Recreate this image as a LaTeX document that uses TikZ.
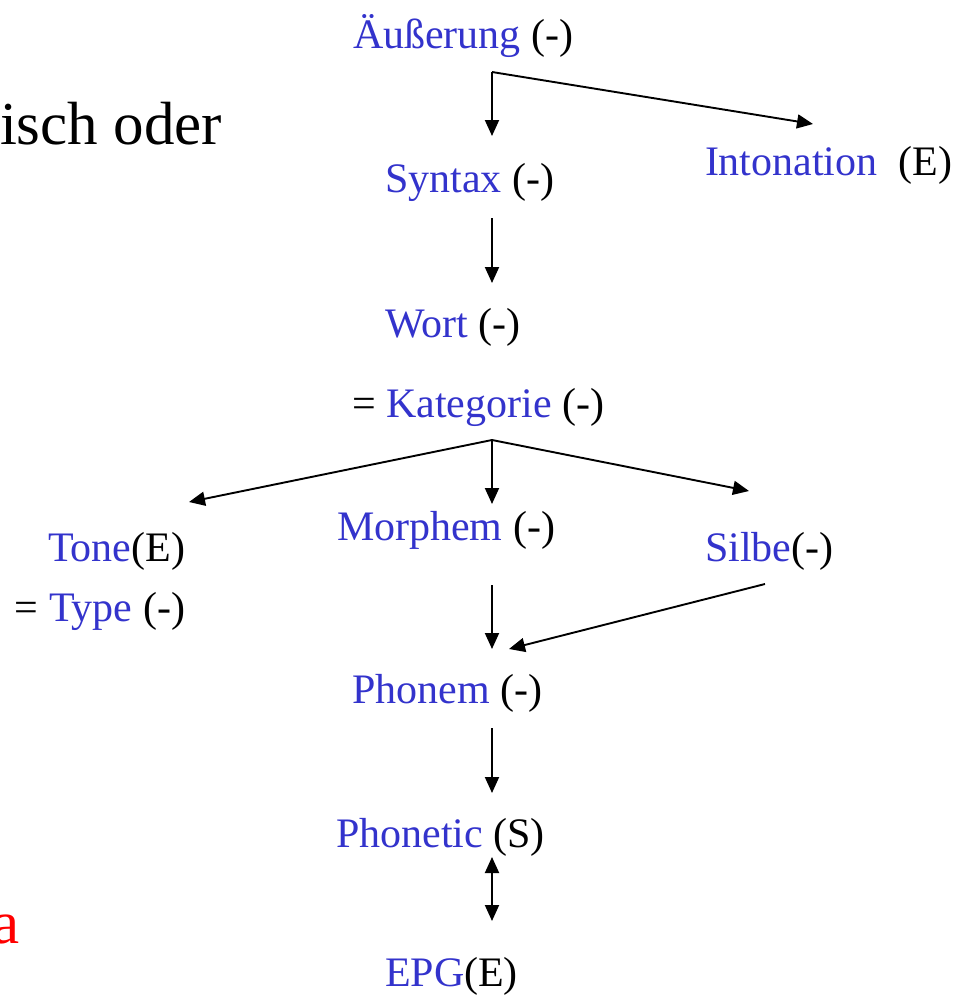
\documentclass[tikz,border=0pt]{standalone}
\usepackage{fontspec}
\setmainfont{Liberation Serif}
\usetikzlibrary{arrows.meta}
\definecolor{lblue}{RGB}{51,51,204}
\definecolor{lred}{RGB}{255,0,0}
\tikzset{
  lbl/.style={inner sep=0pt, outer sep=0pt, anchor=base west, font=\fontsize{42}{50}\selectfont},
  big/.style={inner sep=0pt, outer sep=0pt, anchor=base west, font=\fontsize{61}{70}\selectfont},
  conn/.style={line width=1.9pt, -{Triangle[length=16pt,width=14pt]}},
  dconn/.style={line width=1.9pt, {Triangle[length=16pt,width=14pt]}-{Triangle[length=16pt,width=14pt]}}
}
\newcommand{\bl}[1]{\textcolor{lblue}{#1}}
\begin{document}
\begin{tikzpicture}[x=1pt,y=-1pt]
\useasboundingbox (0,0) rectangle (958,997);
\clip (0,0) rectangle (958,997);
% nodes
\node[lbl] (aeu) at (353,48) {\bl{Äußerung} (-)};
\node[lbl] (syn) at (385,192) {\bl{Syntax} (-)};
\node[lbl] (into) at (705,175) {\bl{Intonation}\ \ (E)};
\node[lbl] (wort) at (385,337) {\bl{Wort} (-)};
\node[lbl] (kat) at (352,417) {= \bl{Kategorie} (-)};
\node[lbl] (tone) at (48,561) {\bl{Tone}(E)};
\node[lbl] (type) at (15,621) {= \bl{Type} (-)};
\node[lbl] (morph) at (337,540) {\bl{Morphem} (-)};
\node[lbl] (silbe) at (705,561) {\bl{Silbe}(-)};
\node[lbl] (phonem) at (352,703) {\bl{Phonem} (-)};
\node[lbl] (phonetic) at (336,847) {\bl{Phonetic} (S)};
\node[lbl] (epg) at (385,986) {\bl{EPG}(E)};
\node[big] (oder) at (0,144) {isch oder};
\node[big, anchor=base east] (ared) at (20,943) {\textcolor{lred}{a}};
% junction coordinates
\coordinate (j1) at (492,72);
\coordinate (j1d) at (492,136);
\coordinate (j1r) at (813,124);
\coordinate (s1) at (492,218);
\coordinate (s1d) at (492,283);
\coordinate (j2) at (492,440);
\coordinate (j2l) at (189,502);
\coordinate (j2d) at (492,504);
\coordinate (j2r) at (749,491);
\coordinate (m1) at (492,585);
\coordinate (m1d) at (492,649);
\coordinate (si1) at (765,584);
\coordinate (si1d) at (509,649);
\coordinate (p1) at (492,728);
\coordinate (p1d) at (492,793);
\coordinate (e1) at (492,857);
\coordinate (e1d) at (492,921);
% connectors
\draw[conn] (j1) -- (j1d);
\draw[conn] (j1) -- (j1r);
\draw[conn] (s1) -- (s1d);
\draw[conn] (j2) -- (j2l);
\draw[conn] (j2) -- (j2d);
\draw[conn] (j2) -- (j2r);
\draw[conn] (m1) -- (m1d);
\draw[conn] (si1) -- (si1d);
\draw[conn] (p1) -- (p1d);
\draw[dconn] (e1) -- (e1d);
\end{tikzpicture}
\end{document}
